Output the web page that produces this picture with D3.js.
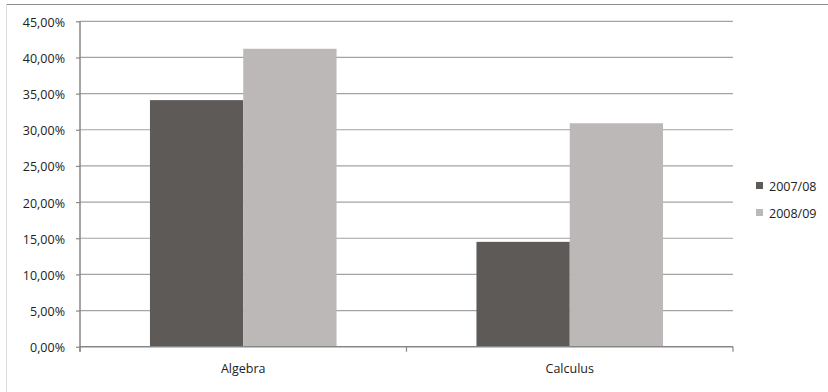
<!DOCTYPE html>
<html>
<head>
<meta charset="utf-8">
<script src="https://cdn.jsdelivr.net/npm/d3@7"></script>
<style>
  html, body { margin: 0; padding: 0; background: #fff; }
  svg { display: block; }
  text { font-family: "Open Sans", "Liberation Sans", sans-serif; font-size: 12.5px; fill: #222; }
</style>
</head>
<body>
<svg id="chart" width="828" height="392"></svg>
<script>
const categories = ["Algebra", "Calculus"];
const seriesNames = ["2007/08", "2008/09"];
const values2007 = [0.341, 0.145];
const values2008 = [0.412, 0.309];
const yTicks = [0, 0.05, 0.10, 0.15, 0.20, 0.25, 0.30, 0.35, 0.40, 0.45];
const colors = ["#5e5a58", "#bcb8b7"];

const seriesValues = [values2007, values2008];

const svg = d3.select("#chart");
const W = 828, H = 392;
const plot = { left: 80, right: 733, top: 21.3, bottom: 346.7 };

const locale = d3.formatLocale({ decimal: ",", thousands: ".", grouping: [3], currency: ["", "€"] });
const fmt = locale.format(".2%");

// outer chart border
svg.append("line").attr("x1", 6).attr("x2", W).attr("y1", 4.5).attr("y2", 4.5)
  .attr("stroke", "#8c8c8c").attr("stroke-width", 1);
svg.append("line").attr("x1", 6.5).attr("x2", 6.5).attr("y1", 4).attr("y2", H)
  .attr("stroke", "#dcdcdc").attr("stroke-width", 1);

const x0 = d3.scaleBand().domain(categories).range([plot.left, plot.right]).paddingInner(0).paddingOuter(0);
const x1 = d3.scaleBand().domain(seriesNames).range([0, x0.bandwidth()]).paddingInner(0).paddingOuter(0.75);
const y = d3.scaleLinear().domain([0, 0.45]).range([plot.bottom, plot.top]);

// gridlines
svg.append("g").selectAll("line").data(yTicks.filter(d => d > 0)).join("line")
  .attr("x1", plot.left).attr("x2", plot.right)
  .attr("y1", d => y(d)).attr("y2", d => y(d))
  .attr("stroke", "#a3a3a3").attr("stroke-width", 1.2);

// bars
categories.forEach((cat, ci) => {
  seriesNames.forEach((s, si) => {
    const v = seriesValues[si][ci];
    svg.append("rect")
      .attr("x", x0(cat) + x1(s))
      .attr("width", x1.bandwidth())
      .attr("y", y(v))
      .attr("height", y(0) - y(v))
      .attr("fill", colors[si]);
  });
});

// y axis
const yAxis = d3.axisLeft(y).tickValues(yTicks).tickFormat(fmt).tickSize(4).tickPadding(11);
const gy = svg.append("g").attr("transform", `translate(${plot.left},0)`).call(yAxis);
gy.select(".domain").attr("stroke", "#878787").attr("stroke-width", 1.5)
  .attr("d", `M0,${plot.top}V${plot.bottom + 5}`);
gy.selectAll(".tick line").attr("stroke", "#878787").attr("stroke-width", 1.2);
gy.selectAll(".tick text").attr("font-size", "12.5px").attr("fill", "#222")
  .attr("font-family", "'Open Sans', sans-serif").attr("dy", "0.4em");

// x axis
const gx = svg.append("g").attr("transform", `translate(0,${plot.bottom})`);
gx.append("line").attr("x1", plot.left).attr("x2", plot.right).attr("y1", 0).attr("y2", 0)
  .attr("stroke", "#878787").attr("stroke-width", 1.5);
const boundaries = categories.map(c => x0(c)).concat([x0(categories[categories.length - 1]) + x0.bandwidth()]);
gx.selectAll("line.tk").data(boundaries).join("line").attr("class", "tk")
  .attr("x1", d => d).attr("x2", d => d).attr("y1", 0).attr("y2", 5)
  .attr("stroke", "#878787").attr("stroke-width", 1.2);
gx.selectAll("text").data(categories).join("text")
  .attr("x", d => x0(d) + x0.bandwidth() / 2)
  .attr("y", 26.5)
  .attr("text-anchor", "middle")
  .text(d => d);

// legend
const lg = svg.append("g").attr("transform", "translate(756,182)");
seriesNames.forEach((s, i) => {
  lg.append("rect").attr("x", 0).attr("y", i * 27).attr("width", 7).attr("height", 7).attr("fill", colors[i]);
  lg.append("text").attr("x", 13).attr("y", i * 27 + 9).text(s);
});
</script>
</body>
</html>
